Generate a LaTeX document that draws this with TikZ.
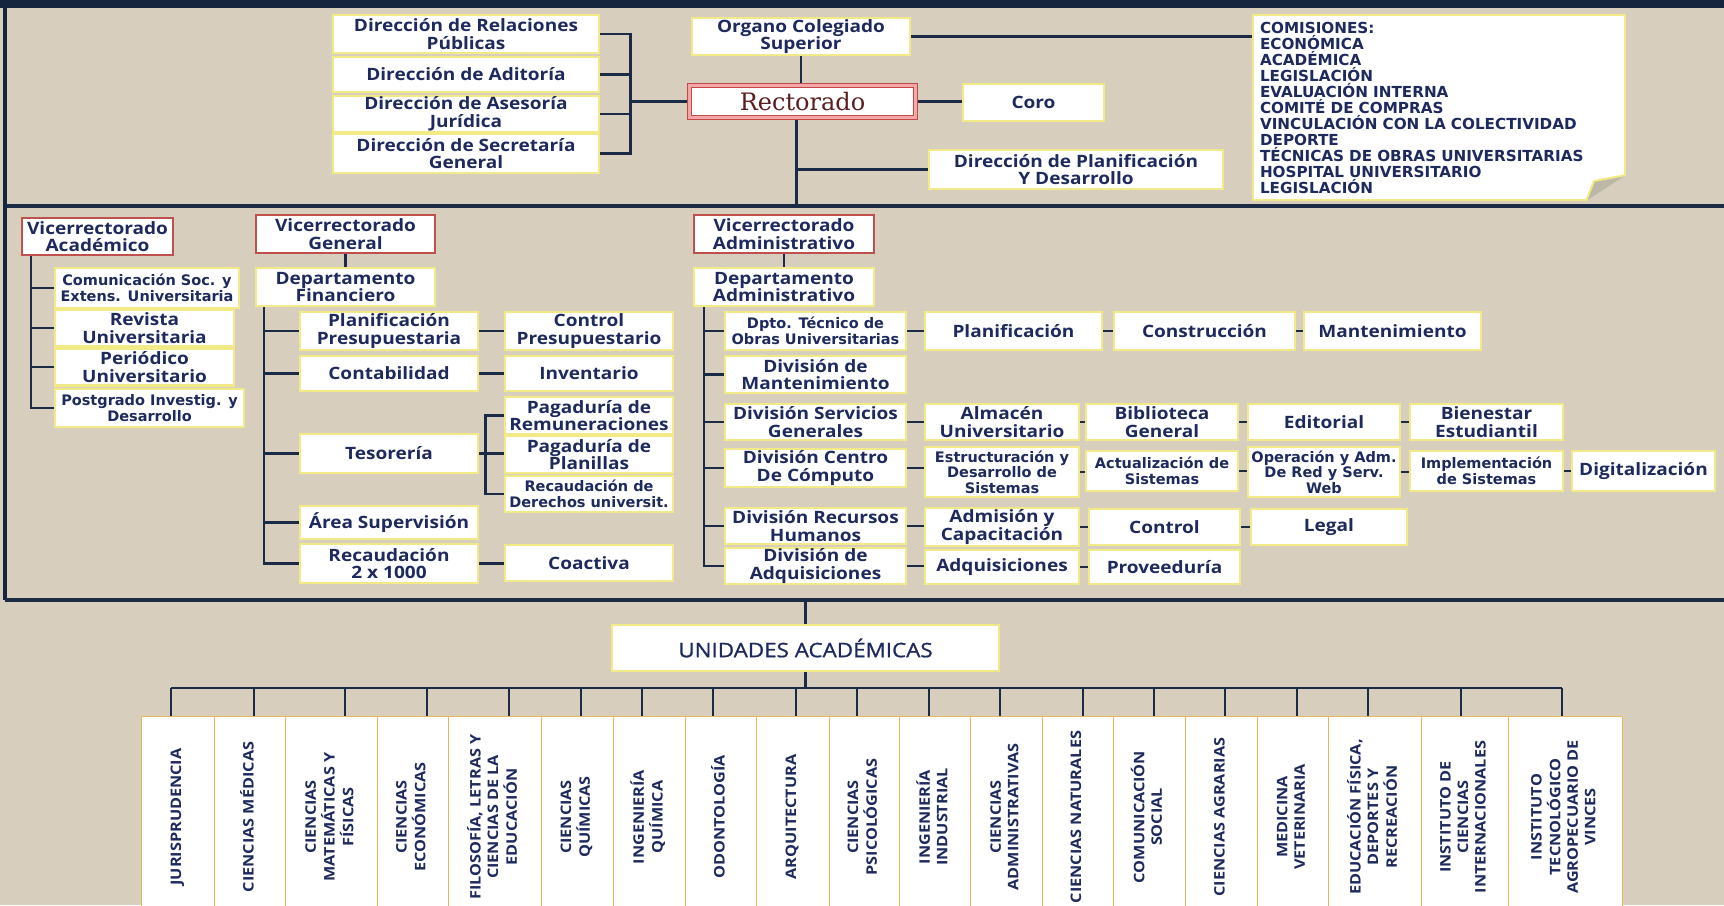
\documentclass[tikz,border=0pt]{standalone}
\usepackage{fontspec}
\setmainfont{Open Sans}[FakeStretch=1.12]
\newfontfamily\uafont{Open Sans}[FakeStretch=1.12, FakeBold=1]
\newfontfamily\dvs{DejaVu Sans}
\newfontfamily\dvserif{DejaVu Serif}
\usetikzlibrary{calc}
\definecolor{bgc}{HTML}{D7CEBE}
\definecolor{lnavy}{HTML}{1B2B45}
\definecolor{tnavy}{HTML}{1E2A5E}
\definecolor{topnavy}{HTML}{14253D}
\definecolor{byel}{HTML}{F2EA86}
\definecolor{vred}{HTML}{C0504D}
\definecolor{forange}{HTML}{E9B85A}
\definecolor{rred}{HTML}{C44848}
\definecolor{rpink}{HTML}{F2A8A8}
\definecolor{rtext}{HTML}{5B1F1F}
\definecolor{foldc}{HTML}{BDB7A8}
\newcommand\bfnt{\fontsize{17}{17.5}\selectfont\bfseries}
\newcommand\smf{\dvs\bfseries\fontsize{14.5}{15.5}\selectfont}
\newcommand\facT[1]{{\fontsize{14.5}{17.5}\selectfont\bfseries\begin{tabular}{@{}c@{}}#1\end{tabular}}}
\pgfdeclarelayer{back}\pgfdeclarelayer{mid}
\pgfsetlayers{back,mid,main}
\tikzset{
 bx/.style={draw=byel, line width=2.5pt, fill=white, inner sep=0pt, align=center, text=tnavy, font=\bfnt},
 vr/.style={draw=vred, line width=1.3pt, fill=white, inner sep=0pt, align=center, text=tnavy, font=\bfnt},
 ln/.style={draw=lnavy, line width=2.6pt},
 sepl/.style={draw=lnavy, line width=3.5pt},
 fac/.style={draw=forange, line width=0.9pt, fill=white, inner sep=0pt, text=tnavy},
}
\begin{document}
\begin{tikzpicture}[x=1pt,y=-1pt]
\useasboundingbox (0,0) rectangle (1724,905);
\begin{pgfonlayer}{back}
\fill[bgc] (0,0) rectangle (1724,905);
\fill[topnavy] (0,0) rectangle (1724,8);
\fill[topnavy] (3,0) rectangle (7,600);
\end{pgfonlayer}

% ---------- top section ----------
\node[bx, minimum width=266pt, minimum height=38pt] (rp) at (466,34) {Dirección de Relaciones\\Públicas};
\node[bx, minimum width=266pt, minimum height=35pt] (aud) at (466,74.5) {Dirección de Aditoría};
\node[bx, minimum width=266pt, minimum height=36pt] (jur) at (466,114) {Dirección de Asesoría\\Jurídica};
\node[bx, minimum width=266pt, minimum height=39pt] (sec) at (466,153.5) {Dirección de Secretaría\\General};
\node[bx, minimum width=218pt, minimum height=37pt] (org) at (801,36.5) {Organo Colegiado\\Superior};
\node[draw=rred, line width=1.1pt, double=rpink, double distance=3pt, fill=white, inner sep=0pt,
      minimum width=226pt, minimum height=32pt, text=rtext, font=\dvserif\fontsize{24}{26}\selectfont] (rect) at (802.5,101.5) {Rectorado};
\node[bx, minimum width=141pt, minimum height=37pt] (coro) at (1033.5,102.5) {Coro};
\node[bx, minimum width=294pt, minimum height=39pt] (dpd) at (1076,169.5) {Dirección de Planificación\\Y Desarrollo};
\node[bx, minimum width=372pt, minimum height=185pt, text width=358pt, align=left,
      font=\dvs\bfseries\fontsize{15.2}{16}\selectfont] (com) at (1439,107.5)
 {COMISIONES:\\ECONÓMICA\\ACADÉMICA\\LEGISLACIÓN\\EVALUACIÓN INTERNA\\COMITÉ DE COMPRAS\\VINCULACIÓN CON LA COLECTIVIDAD\\DEPORTE\\TÉCNICAS DE OBRAS UNIVERSITARIAS\\HOSPITAL UNIVERSITARIO\\LEGISLACIÓN};
% folded corner
\fill[bgc] (1627,173) -- (1627,202) -- (1584,202) -- cycle;
\fill[foldc] (1626,175) -- (1586,201) -- (1594,181) -- cycle;
\draw[byel, line width=2pt] (1626,175) -- (1594,181) -- (1586,201);

% ---------- middle section ----------
\node[vr, minimum width=151pt, minimum height=37pt] (vac) at (97.5,236.5) {Vicerrectorado\\Académico};
\node[vr, minimum width=179pt, minimum height=38pt] (vgen) at (345.5,234) {Vicerrectorado\\General};
\node[vr, minimum width=180pt, minimum height=38pt] (vadm) at (784,234) {Vicerrectorado\\Administrativo};

\node[bx, minimum width=184pt, minimum height=40pt, font=\smf] (cse) at (147,288) {Comunicación Soc. y\\Extens. Universitaria};
\node[bx, minimum width=179pt, minimum height=37pt] (rev) at (144.5,328) {Revista\\Universitaria};
\node[bx, minimum width=179pt, minimum height=37pt] (per) at (144.5,367) {Periódico\\Universitario};
\node[bx, minimum width=189pt, minimum height=38pt, font=\smf] (pos) at (149.5,408) {Postgrado Investig. y\\Desarrollo};

\node[bx, minimum width=179pt, minimum height=38pt] (dfin) at (345.5,287) {Departamento\\Financiero};
\node[bx, minimum width=178pt, minimum height=38pt] (plan) at (389,331) {Planificación\\Presupuestaria};
\node[bx, minimum width=178pt, minimum height=35pt] (cont) at (389,373.5) {Contabilidad};
\node[bx, minimum width=178pt, minimum height=39pt] (tes) at (389,453.5) {Tesorería};
\node[bx, minimum width=178pt, minimum height=33pt] (area) at (389,522.5) {Área Supervisión};
\node[bx, minimum width=178pt, minimum height=39pt] (rec) at (389,563.5) {Recaudación\\2 x 1000};
\node[bx, minimum width=168pt, minimum height=38pt] (cpre) at (589,331) {Control\\Presupuestario};
\node[bx, minimum width=168pt, minimum height=35pt] (inv) at (589,373.5) {Inventario};
\node[bx, minimum width=168pt, minimum height=37pt] (prem) at (589,415.5) {Pagaduría de\\Remuneraciones};
\node[bx, minimum width=168pt, minimum height=37pt] (ppla) at (589,454.5) {Pagaduría de\\Planillas};
\node[bx, minimum width=168pt, minimum height=36pt, font=\smf] (rder) at (589,494) {Recaudación de\\Derechos universit.};
\node[bx, minimum width=168pt, minimum height=36pt] (coac) at (589,563) {Coactiva};

\node[bx, minimum width=180pt, minimum height=38pt] (dadm) at (784,287) {Departamento\\Administrativo};
\node[bx, minimum width=181pt, minimum height=38pt, font=\smf] (dto) at (815.5,331) {Dpto. Técnico de\\Obras Universitarias};
\node[bx, minimum width=181pt, minimum height=37pt] (dman) at (815.5,374.5) {División de\\Mantenimiento};
\node[bx, minimum width=181pt, minimum height=36pt] (dsg) at (815.5,422) {División Servicios\\Generales};
\node[bx, minimum width=181pt, minimum height=38pt] (dcc) at (815.5,468) {División Centro\\De Cómputo};
\node[bx, minimum width=181pt, minimum height=36pt] (drh) at (815.5,526) {División Recursos\\Humanos};
\node[bx, minimum width=181pt, minimum height=36pt] (dadq) at (815.5,566) {División de\\Adquisiciones};

\node[bx, minimum width=177pt, minimum height=38pt] (planif) at (1013.5,331) {Planificación};
\node[bx, minimum width=181pt, minimum height=38pt] (constr) at (1204.5,331) {Construcción};
\node[bx, minimum width=177pt, minimum height=38pt] (mant) at (1392.5,331) {Mantenimiento};

\node[bx, minimum width=154pt, minimum height=36pt] (alm) at (1002,422) {Almacén\\Universitario};
\node[bx, minimum width=152pt, minimum height=36pt] (bib) at (1162,422) {Biblioteca\\General};
\node[bx, minimum width=152pt, minimum height=36pt] (edit) at (1324,422) {Editorial};
\node[bx, minimum width=153pt, minimum height=36pt] (bien) at (1486.5,422) {Bienestar\\Estudiantil};

\node[bx, minimum width=154pt, minimum height=50pt, font=\smf] (estr) at (1002,472) {Estructuración y\\Desarrollo de\\Sistemas};
\node[bx, minimum width=152pt, minimum height=40pt, font=\smf] (act) at (1162,471) {Actualización de\\Sistemas};
\node[bx, minimum width=152pt, minimum height=50pt, font=\smf] (oper) at (1324,472) {Operación y Adm.\\De Red y Serv.\\Web};
\node[bx, minimum width=153pt, minimum height=40pt, font=\smf] (impl) at (1486.5,471) {Implementación\\de Sistemas};
\node[bx, minimum width=143pt, minimum height=40pt] (dig) at (1643.5,471) {Digitalización};

\node[bx, minimum width=154pt, minimum height=38pt] (adm) at (1002,527) {Admisión y\\Capacitación};
\node[bx, minimum width=151pt, minimum height=36pt] (ctrl) at (1164.5,527) {Control};
\node[bx, minimum width=156pt, minimum height=36pt] (legal) at (1329,527) {Legal};

\node[bx, minimum width=154pt, minimum height=34pt] (adqs) at (1002,567) {Adquisiciones};
\node[bx, minimum width=151pt, minimum height=34pt] (prov) at (1164.5,567) {Proveeduría};

% ---------- bottom section ----------
\node[bx, minimum width=387pt, minimum height=46pt, font=\uafont\fontsize{20}{22}\selectfont] (ua) at (805.5,648) {UNIDADES ACADÉMICAS};

\node[fac, minimum width=73pt, minimum height=202pt] (f1) at (177.5,817) {\rotatebox{90}{\facT{JURISPRUDENCIA}}};
\node[fac, minimum width=71pt, minimum height=202pt] (f2) at (249.5,817) {\rotatebox{90}{\facT{CIENCIAS MÉDICAS}}};
\node[fac, minimum width=92pt, minimum height=202pt] (f3) at (331,817) {\rotatebox{90}{\facT{CIENCIAS\\MATEMÁTICAS Y\\FÍSICAS}}};
\node[fac, minimum width=71pt, minimum height=202pt] (f4) at (412.5,817) {\rotatebox{90}{\facT{CIENCIAS\\ECONÓMICAS}}};
\node[fac, minimum width=93pt, minimum height=202pt] (f5) at (494.5,817) {\rotatebox{90}{\facT{FILOSOFÍA, LETRAS Y\\CIENCIAS DE LA\\EDUCACIÓN}}};
\node[fac, minimum width=72pt, minimum height=202pt] (f6) at (577,817) {\rotatebox{90}{\facT{CIENCIAS\\QUÍMICAS}}};
\node[fac, minimum width=72pt, minimum height=202pt] (f7) at (649,817) {\rotatebox{90}{\facT{INGENIERÍA\\QUÍMICA}}};
\node[fac, minimum width=71pt, minimum height=202pt] (f8) at (720.5,817) {\rotatebox{90}{\facT{ODONTOLOGÍA}}};
\node[fac, minimum width=73pt, minimum height=202pt] (f9) at (792.5,817) {\rotatebox{90}{\facT{ARQUITECTURA}}};
\node[fac, minimum width=70pt, minimum height=202pt] (f10) at (864,817) {\rotatebox{90}{\facT{CIENCIAS\\PSICOLÓGICAS}}};
\node[fac, minimum width=71pt, minimum height=202pt] (f11) at (934.5,817) {\rotatebox{90}{\facT{INGENIERÍA\\INDUSTRIAL}}};
\node[fac, minimum width=72pt, minimum height=202pt] (f12) at (1006,817) {\rotatebox{90}{\facT{CIENCIAS\\ADMINISTRATIVAS}}};
\node[fac, minimum width=71pt, minimum height=202pt] (f13) at (1077.5,817) {\rotatebox{90}{\facT{CIENCIAS NATURALES}}};
\node[fac, minimum width=72pt, minimum height=202pt] (f14) at (1149,817) {\rotatebox{90}{\facT{COMUNICACIÓN\\SOCIAL}}};
\node[fac, minimum width=72pt, minimum height=202pt] (f15) at (1221,817) {\rotatebox{90}{\facT{CIENCIAS AGRARIAS}}};
\node[fac, minimum width=71pt, minimum height=202pt] (f16) at (1292.5,817) {\rotatebox{90}{\facT{MEDICINA\\VETERINARIA}}};
\node[fac, minimum width=93pt, minimum height=202pt] (f17) at (1374.5,817) {\rotatebox{90}{\facT{EDUCACIÓN FÍSICA,\\DEPORTES Y\\RECREACIÓN}}};
\node[fac, minimum width=87pt, minimum height=202pt] (f18) at (1464.5,817) {\rotatebox{90}{\facT{INSTITUTO DE\\CIENCIAS\\INTERNACIONALES}}};
\node[fac, minimum width=114pt, minimum height=202pt] (f19) at (1565,817) {\rotatebox{90}{\facT{INSTITUTO\\TECNOLÓGICO\\AGROPECUARIO DE\\VINCES}}};

% ---------- connectors ----------
\begin{pgfonlayer}{mid}
\coordinate (s1L) at (5,206);
\coordinate (s1R) at (1724,206);
\coordinate (s2L) at (5,600);
\coordinate (s2R) at (1724,600);
\draw[sepl] (s1L) -- (s1R);
\draw[sepl] (s2L) -- (s2R);
% top
\draw[ln] (rp.east) -- ++(30,0) coordinate (bkT) |- (sec.east);
\draw[ln] (aud.east) -- (aud.east -| bkT);
\draw[ln] (jur.east) -- (jur.east -| bkT);
\draw[ln] (rect.west -| bkT) -- (rect.west);
\draw[ln] (org.south) -- (org.south |- rect.north);
\draw[ln] (org.east) -- (org.east -| com.west);
\draw[ln] (rect.east) -- (rect.east -| coro.west);
\draw[ln] ([xshift=-6pt]rect.south) -- ([xshift=-6pt]rect.south |- s1L) coordinate (dn);
\draw[ln] (dpd.west) -- (dpd.west -| dn);
% vicerrectorado academico
\coordinate (tA) at (31,255);
\draw[ln] (tA) |- (pos.west);
\foreach \n in {cse,rev,per} \draw[ln] (\n.west) -- (\n.west -| tA);
% vicerrectorado general
\draw[ln] (vgen.south) -- (dfin.north);
\coordinate (tB) at (264,306);
\draw[ln] (tB) |- (rec.west);
\foreach \n in {plan,cont,tes,area} \draw[ln] (\n.west) -- (\n.west -| tB);
\draw[ln] (plan.east) -- (plan.east -| cpre.west);
\draw[ln] (cont.east) -- (cont.east -| inv.west);
\draw[ln] (rec.east) -- (rec.east -| coac.west);
\draw[ln] (prem.west) -- ++(-18,0) coordinate (tT) |- (rder.west);
\draw[ln] (tes.east) -- (tes.east -| ppla.west);
% vicerrectorado administrativo
\draw[ln] (vadm.south) -- (dadm.north);
\coordinate (tC) at (704,306);
\draw[ln] (tC) |- (dadq.west);
\foreach \n in {dto,dman,dsg,dcc,drh} \draw[ln] (\n.west) -- (\n.west -| tC);
\draw[ln] (dto.east) -- (dto.east -| planif.west);
\draw[ln] (planif.east) -- (planif.east -| constr.west);
\draw[ln] (constr.east) -- (constr.east -| mant.west);
\draw[ln] (dsg.east) -- (dsg.east -| alm.west);
\draw[ln] (alm.east) -- (alm.east -| bib.west);
\draw[ln] (bib.east) -- (bib.east -| edit.west);
\draw[ln] (edit.east) -- (edit.east -| bien.west);
\draw[ln] (dcc.east) -- (dcc.east -| estr.west);
\draw[ln] (estr.east) -- (estr.east -| act.west);
\draw[ln] (act.east) -- (act.east -| oper.west);
\draw[ln] (oper.east) -- (oper.east -| impl.west);
\draw[ln] (impl.east) -- (impl.east -| dig.west);
\draw[ln] (drh.east) -- (drh.east -| adm.west);
\draw[ln] (adm.east) -- (adm.east -| ctrl.west);
\draw[ln] (ctrl.east) -- (ctrl.east -| legal.west);
\draw[ln] (dadq.east) -- (dadq.east -| adqs.west);
\draw[ln] (adqs.east) -- (adqs.east -| prov.west);
% unidades
\draw[ln] (ua.north |- s2L) -- (ua.north);
\draw[ln] (ua.south) -- ++(0,17) coordinate (busC);
\coordinate (busL) at (171,688);
\coordinate (busR) at (1562,688);
\draw[ln] (busL) -- (busR);
\foreach \n/\xd in {f1/171,f2/254,f3/345,f4/427,f5/509,f6/581,f7/642,f8/713,f9/796,f10/857,f11/929,f12/1000,f13/1083,f14/1154,f15/1225,f16/1297,f17/1368,f18/1461,f19/1562}
  \draw[ln] (\xd,688) -- (\n.north -| \xd,0);
\end{pgfonlayer}
\end{tikzpicture}
\end{document}
